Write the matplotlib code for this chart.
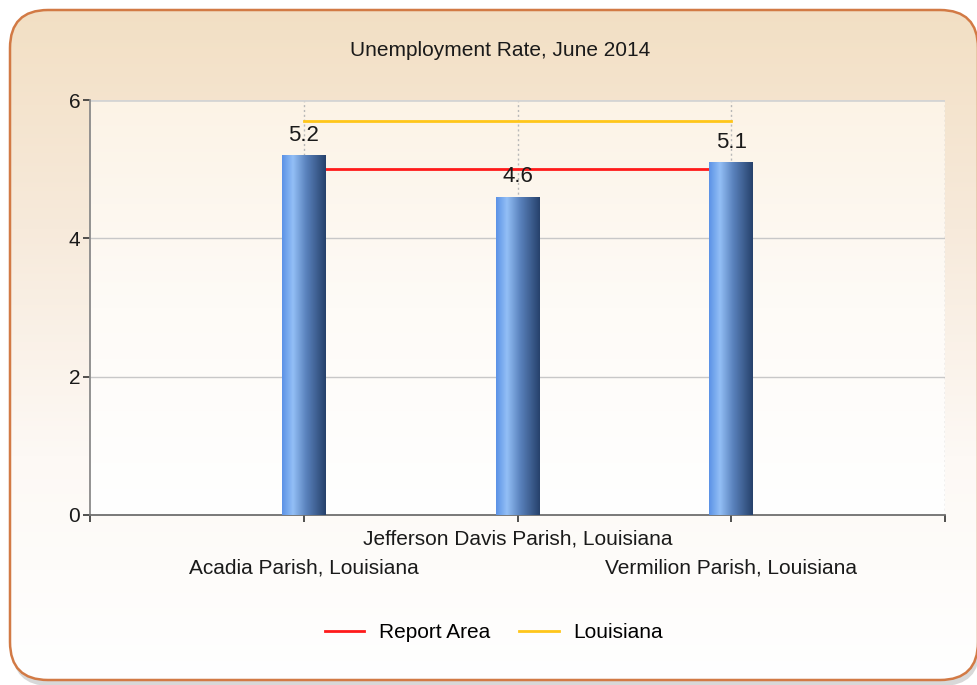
import numpy as np
import matplotlib.pyplot as plt
from matplotlib.patches import FancyBboxPatch
from matplotlib.colors import LinearSegmentedColormap

plt.rcParams['font.family'] = ['Liberation Sans', 'DejaVu Sans']

# data
areas = ['Acadia Parish, Louisiana', 'Jefferson Davis Parish, Louisiana', 'Vermilion Parish, Louisiana']
rates = [5.2, 4.6, 5.1]
report_area = 5.0
louisiana = 5.7

FS = 15
TXT = '#1a1a1a'
W, H = 977, 685
fig = plt.figure(figsize=(W / 100, H / 100), dpi=100)

# background panel with rounded border and vertical gradient
bg = fig.add_axes([0, 0, 1, 1])
bg.set_xlim(0, W)
bg.set_ylim(H, 0)
bg.axis('off')
shadow = FancyBboxPatch((12, 14), 968, 672, boxstyle='round,pad=0,rounding_size=38',
                        facecolor='#d8d8d8', edgecolor='none', zorder=0.5)
bg.add_patch(shadow)
panel = FancyBboxPatch((10, 10), 968, 670, boxstyle='round,pad=0,rounding_size=38',
                       facecolor='none', edgecolor='#d27a45', linewidth=1.8, zorder=3)
bg.add_patch(panel)
panel_cmap = LinearSegmentedColormap.from_list('panel', ['#f2dfc3', '#f7eadb', '#fdf9f5', '#ffffff'])
grad = np.linspace(0, 1, 256).reshape(-1, 1)
im = bg.imshow(grad, cmap=panel_cmap, extent=(0, W, H, 0), aspect='auto', zorder=1)
im.set_clip_path(panel)

# plot area gradient
inner_cmap = LinearSegmentedColormap.from_list('inner', ['#fcf3e6', '#fefbf7', '#ffffff'])
bg.imshow(grad, cmap=inner_cmap, extent=(90, 945, 515, 100), aspect='auto', zorder=2)

# main axes
ax = fig.add_axes([90 / W, (H - 515) / H, 855 / W, 415 / H])
ax.set_facecolor('none')
x = np.arange(1, len(areas) + 1)

# grid
for yv in [2, 4]:
    ax.axhline(yv, color='#c8c8c8', linewidth=1, zorder=1)
for xv in list(x) + [len(areas) + 1]:
    ax.axvline(xv, color='#b8b8b8', linewidth=1, linestyle=(0, (1.5, 2)), zorder=1)

# reference lines
ax.plot([x[0], x[-1]], [report_area] * 2, color='#ff1a1a', linewidth=2, zorder=2, label='Report Area')
ax.plot([x[0], x[-1]], [louisiana] * 2, color='#ffc61a', linewidth=2, zorder=2, label='Louisiana')

# gradient bars
bar_cmap = LinearSegmentedColormap.from_list(
    'bar', [(0, '#5b92e6'), (0.25, '#93bff6'), (0.55, '#5a82bd'), (1, '#26416b')])
bars = ax.bar(x, rates, width=0.205, color='none', zorder=3)
hgrad = np.linspace(0, 1, 256).reshape(1, -1)
for b in bars:
    x0, w, h = b.get_x(), b.get_width(), b.get_height()
    bim = ax.imshow(hgrad, cmap=bar_cmap, extent=(x0, x0 + w, 0, h), aspect='auto', zorder=3)
    bim.set_clip_path(b)
    ax.text(x0 + w / 2, h + 0.14, f'{h:.1f}', ha='center', va='bottom', fontsize=FS + 1, color=TXT, zorder=4)
ax.set_xlim(0, len(areas) + 1)
ax.set_ylim(0, 6)

# spines and ticks
for s in ['top', 'right']:
    ax.spines[s].set_visible(False)
ax.axhline(6, color='#d4d4d4', linewidth=2, zorder=1)
ax.spines['left'].set_color('#8a8a8a')
ax.spines['left'].set_linewidth(1.3)
ax.spines['bottom'].set_color('#6e6e6e')
ax.spines['bottom'].set_linewidth(1.3)
ax.set_yticks([0, 2, 4, 6])
ax.set_xticks(range(0, len(areas) + 2))
ax.set_xticklabels([])
ax.tick_params(axis='both', direction='out', length=5, width=1.2, color='#333333', labelsize=FS, labelcolor=TXT)
ax.tick_params(axis='y', pad=2)

# staggered category labels
for i, (xi, name) in enumerate(zip(x, areas)):
    off = -17 if i % 2 == 1 else -38.5
    ax.annotate(name, xy=(xi, 0), xycoords=('data', 'axes fraction'), xytext=(0, off),
                textcoords='offset points', ha='center', va='center', fontsize=FS, color=TXT)

fig.text(500 / W, 1 - 50 / H, 'Unemployment Rate, June 2014', ha='center', va='center', fontsize=FS, color=TXT)

handles, labels = ax.get_legend_handles_labels()
fig.legend(handles, labels, loc='center', bbox_to_anchor=(494 / W, 1 - 633 / H), ncol=2, frameon=False,
           fontsize=FS, handlelength=1.9, columnspacing=1.4, handletextpad=0.7)

fig.savefig('out.png', dpi=100)
